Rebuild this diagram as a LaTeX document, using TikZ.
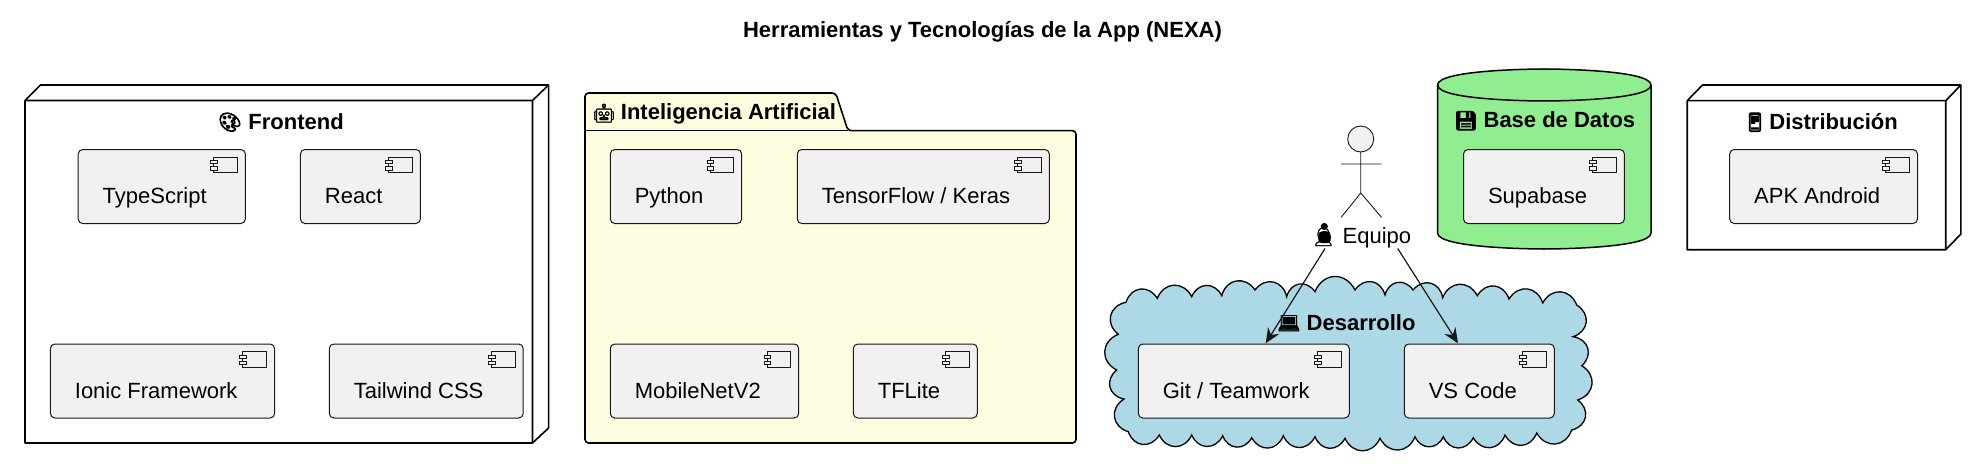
\documentclass[tikz,border=0pt]{standalone}
\usepackage{fontspec}
\setmainfont{Liberation Sans}
\newfontfamily\emo{Noto Emoji}[FakeBold=1.5]
\newfontfamily\emob{Noto Emoji}[FakeBold=5]
\usetikzlibrary{calc,arrows.meta}
\definecolor{compfill}{HTML}{F1F1F1}
\definecolor{inkline}{HTML}{181818}
\tikzset{
  comp/.style={draw=inkline,fill=compfill,line width=1pt,rounded corners=4.5pt,inner xsep=24.5pt,inner ysep=0pt,outer sep=0pt,
     text height=54pt,text depth=20pt,anchor=north west,font=\fontsize{22}{26}\selectfont},
  compicon/.style={draw=inkline,fill=compfill,line width=.9pt},
  box/.style={draw=black,line width=1.6pt,line join=round},
  title/.style={font=\fontsize{22}{26}\selectfont\bfseries,inner sep=0pt,anchor=base west},
  lab/.style={font=\fontsize{22}{26}\selectfont,inner sep=0pt,anchor=base west},
  ico/.style={font=\fontsize{18.5}{22}\selectfont\emo,inner sep=0pt,anchor=base west},
  icob/.style={font=\fontsize{18.5}{22}\selectfont\emob,inner sep=0pt,anchor=base west},
  conn/.style={draw=inkline,line width=1.2pt,-{Stealth[length=15pt,width=13pt,inset=5pt]}},
  bump/.style={bend left=65,looseness=1.35},
}
\newcommand{\compbox}[6]{% name x1 y1 x2 y2 text
  \pgfmathsetmacro{\cw}{#4-#2-49}
  \node[comp] (#1) at (#2,#3) {\makebox[\cw pt][l]{#6}};
  \begin{scope}[shift={(#1.north east)}]
    \draw[compicon] (-31.7,7.6) rectangle (-8,23.2);
    \draw[compicon] (-34.7,11) rectangle (-28,14.3);
    \draw[compicon] (-34.7,17.4) rectangle (-28,20.6);
  \end{scope}
}
\begin{document}
\begin{tikzpicture}[x=1pt,y=-1pt]
\useasboundingbox[fill=white] (0,0) rectangle (1985,468);
% title
\node[title,anchor=base] (ttl) at (982.5,38) {Herramientas y Tecnologías de la App (NEXA)};
% Frontend
\draw[box,fill=white] (25,100.5) -- (40.5,85) -- (548.6,85) -- (548.6,428) -- (532.5,443) -- (25,443) -- cycle;
\draw[box] (25,100.5) -- (532.5,100.5) -- (532.5,443) (532.5,100.5) -- (548.6,85);
\node[icob] (feicon) at (218,128.5) {🎨};
\node[title] (felab) at (248.2,129) {Frontend};
\compbox{ts}{78.2}{149.5}{245.4}{223.5}{TypeScript}
\compbox{react}{300.4}{149.5}{420.4}{223.5}{React}
\compbox{ionic}{50.4}{344}{274.6}{418}{Ionic Framework}
\compbox{tail}{329.3}{344}{523.2}{418}{Tailwind CSS}
% IA
\draw[box,fill=yellow!12!white,rounded corners=3.5pt] (585,130.7) -- (585,93) -- (835.7,93) -- (848,130.7) -- (1076,130.7) -- (1076,443) -- (585,443) -- cycle;
\draw[box] (585,130.7) -- (848,130.7);
\node[ico] (iaicon) at (592,119.5) {🤖};
\node[title] (ialab) at (620.7,120) {Inteligencia Artificial};
\compbox{py}{610.3}{149.5}{741.7}{223.5}{Python}
\compbox{tf}{797.3}{149.5}{1049.3}{223.5}{TensorFlow / Keras}
\compbox{mob}{610.3}{344}{798.7}{418}{MobileNetV2}
\compbox{tfl}{853.3}{344}{977.3}{418}{TFLite}
% Cloud
\draw[black,line width=1.3pt,fill={rgb,255:red,173;green,216;blue,230}]
 (1118.3,334.3) to[bump] (1126,302.3) to[bump] (1157.3,298.3) to[bump] (1191.7,296.7) to[bump] (1221.7,295.7)
 to[bump] (1255,290) to[bump] (1286.7,296.7) to[bump] (1315,291.7) to[bump] (1355,290) to[bump] (1385,295)
 to[bump] (1413,290) to[bump] (1442.7,297.7) to[bump] (1477.3,295.7) to[bump] (1509,299) to[bump] (1542.7,303)
 to[bump] (1576.7,305) to[bump] (1573,336.7) to[bump] (1581.7,365.7) to[bump] (1577.7,400) to[bump] (1571.7,430)
 to[bump] (1536.7,433) to[bump] (1505,435) to[bump] (1473.3,437.7) to[bump] (1443.3,436.7) to[bump] (1415,436.7)
 to[bump] (1380,438.3) to[bump] (1345,438.3) to[bump] (1315,436.7) to[bump] (1283.3,435.7) to[bump] (1251.7,437.7)
 to[bump] (1222.7,435.7) to[bump] (1191.7,435) to[bump] (1159.3,435) to[bump] (1128.3,431.7) to[bump] (1124,399)
 to[bump] (1116.7,370) to[bump] (1118.3,334.3) -- cycle;
\node[ico] (devicon) at (1277,329.5) {💻};
\node[title] (devlab) at (1306.5,330) {Desarrollo};
\compbox{git}{1138.3}{344}{1349.3}{418}{Git / Teamwork}
\compbox{vs}{1404.3}{344}{1554.3}{418}{VS Code}
% Database
\draw[box,fill={rgb,255:red,144;green,238;blue,144},line width=1.5pt]
 (1437.5,85) .. controls (1437.5,69) and (1544,69) .. (1544,69) .. controls (1544,69) and (1651,69) .. (1651,85)
 -- (1651,233) .. controls (1651,249) and (1544,249) .. (1544,249) .. controls (1544,249) and (1437.5,249) .. (1437.5,233) -- cycle;
\draw[box,line width=1.5pt] (1437.5,85) .. controls (1437.5,101) and (1544,101) .. (1544,101) .. controls (1544,101) and (1651,101) .. (1651,85);
\node[icob] (dbicon) at (1454,127) {💾};
\node[title] (dblab) at (1483.4,127.5) {Base de Datos};
\compbox{supa}{1463.5}{149.5}{1624.4}{223.5}{Supabase}
% Distribution
\draw[box,fill=white] (1687.2,100.7) -- (1702.5,85) -- (1960.9,85) -- (1960.9,234) -- (1945.7,249.7) -- (1687.2,249.7) -- cycle;
\draw[box] (1687.2,100.7) -- (1945.7,100.7) -- (1945.7,249.7) (1945.7,100.7) -- (1960.9,85);
\node[icob] (apicon) at (1743,128.5) {📱};
\node[title] (aplab) at (1769.2,129) {Distribución};
\compbox{apk}{1729.7}{149.5}{1917.5}{223.5}{APK Android}
% Actor
\draw[draw=inkline,line width=.9pt,fill=compfill] (1360.7,139) circle (13);
\draw[draw=inkline,line width=.9pt] (1360.7,152) -- (1360.7,193) (1341.2,164) -- (1381.5,164) (1341.2,217.3) -- (1360.7,193) -- (1381.5,217.3);
\fill[black] (1324.3,226.5) circle (3.6);
\fill[black,rounded corners=3pt] (1318.5,243) -- (1318,234) -- (1321,231) -- (1328,231) -- (1331,234) -- (1330.5,243) -- cycle;
\node[ico] (eqicon) at (1311.5,243) {👤};
\node[lab] (eqlab) at (1342.5,243) {Equipo};
% connectors
\draw[conn] ($(eqlab.base west)+(-17.5,5.5)$) -- ($(git.north west)+(127.4,-.7)$);
\draw[conn] ($(eqlab.base west)+(55.2,5.5)$) -- ($(vs.north west)+(53.7,-.7)$);
\end{tikzpicture}
\end{document}
